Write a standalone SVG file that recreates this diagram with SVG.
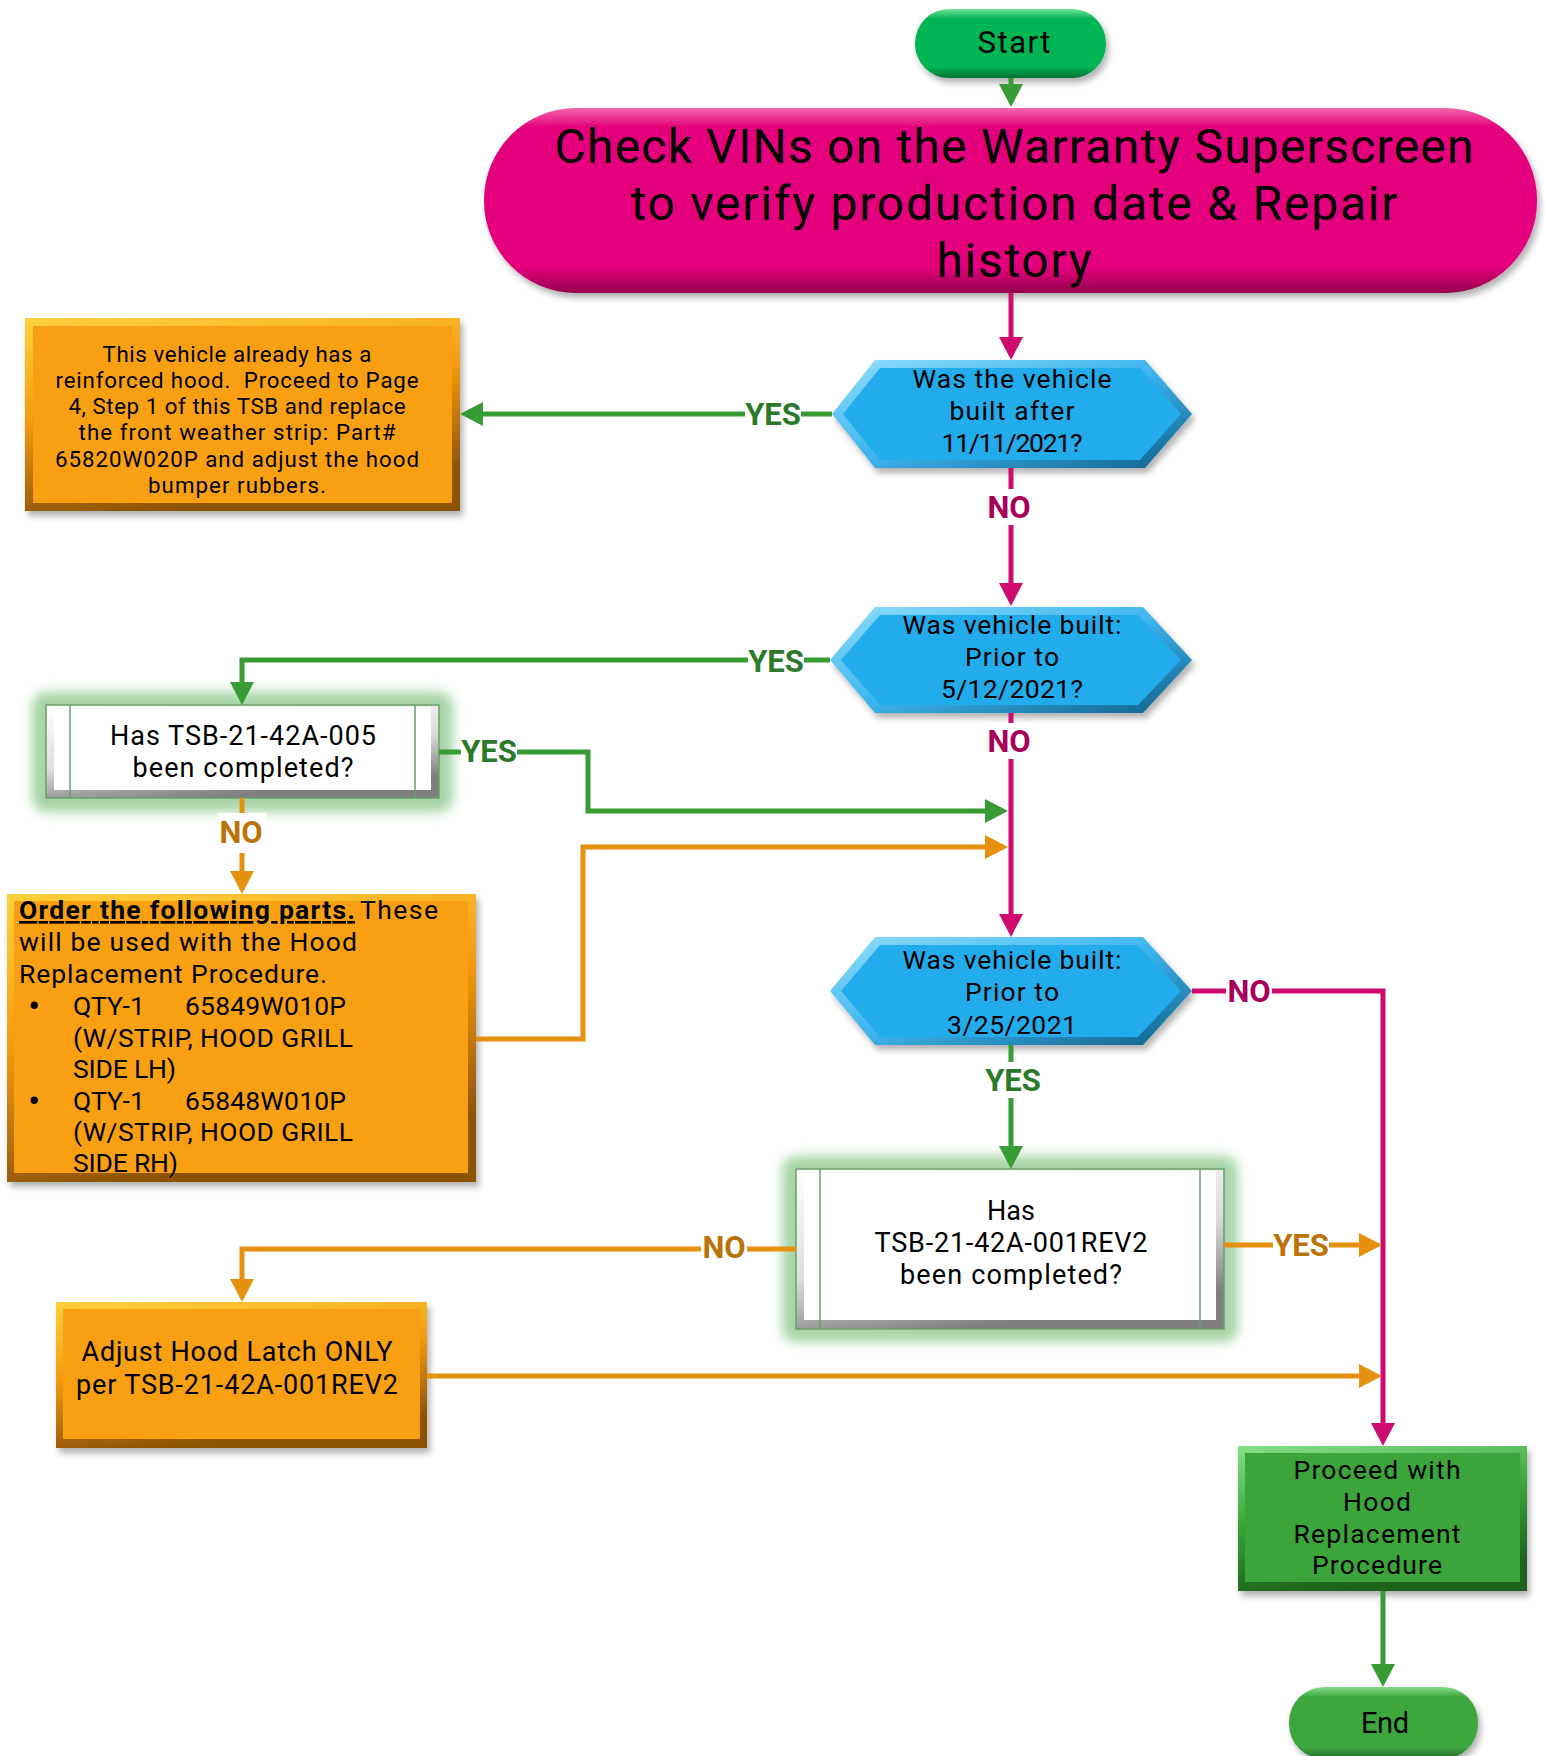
<svg xmlns="http://www.w3.org/2000/svg" width="1545" height="1756" viewBox="0 0 1545 1756">
<defs>
<style>
.t{font-family:Roboto,"Noto Sans","Liberation Sans",sans-serif;fill:#000}
.c{text-anchor:middle}
.lbl{font-family:Roboto,"Noto Sans","Liberation Sans",sans-serif;font-weight:700;font-size:31px;text-anchor:middle}
.cn{fill:none;stroke-width:5}
.g{stroke:#389B34}.m{stroke:#CE0A6F}.o{stroke:#E6900F}
.lg{fill:#2A7A2A}.lm{fill:#A8005A}.lo{fill:#BA7308}
.bg{fill:#fff}
.hexin{fill:#22ACEC}
.orin{fill:#F9A012}
.grin{fill:#3BA53B}
.whin{fill:#fff}
.glow{fill:#A6D4A6}
.edge{stroke:#6A9F6A;stroke-width:1.5;fill:none}
</style>
<marker id="aG" markerUnits="userSpaceOnUse" markerWidth="24" markerHeight="24" refX="11" refY="12" orient="auto"><path d="M0,0L23,12L0,24z" fill="#389B34"/></marker>
<marker id="aM" markerUnits="userSpaceOnUse" markerWidth="24" markerHeight="24" refX="11" refY="12" orient="auto"><path d="M0,0L23,12L0,24z" fill="#CE0A6F"/></marker>
<marker id="aO" markerUnits="userSpaceOnUse" markerWidth="24" markerHeight="24" refX="11" refY="12" orient="auto"><path d="M0,0L23,12L0,24z" fill="#E6900F"/></marker>
<linearGradient id="pinkG" x1="0" y1="0" x2="0" y2="1"><stop offset="0" stop-color="#F565AE"/><stop offset="0.1" stop-color="#E4067B"/><stop offset="0.86" stop-color="#E4067B"/><stop offset="1" stop-color="#94004C"/></linearGradient>
<linearGradient id="startG" x1="0" y1="0" x2="0" y2="1"><stop offset="0" stop-color="#6FE29A"/><stop offset="0.14" stop-color="#05B552"/><stop offset="0.84" stop-color="#05B552"/><stop offset="1" stop-color="#037038"/></linearGradient>
<linearGradient id="endG" x1="0" y1="0" x2="0" y2="1"><stop offset="0" stop-color="#86DE86"/><stop offset="0.14" stop-color="#3EA63E"/><stop offset="0.84" stop-color="#3EA63E"/><stop offset="1" stop-color="#226A22"/></linearGradient>
<linearGradient id="hexG" x1="0" y1="0" x2="1" y2="1"><stop offset="0" stop-color="#8FDDFA"/><stop offset="0.5" stop-color="#3DB5EE"/><stop offset="1" stop-color="#0E5F8A"/></linearGradient>
<linearGradient id="orG" x1="0" y1="0" x2="0.3" y2="1"><stop offset="0" stop-color="#FFD23C"/><stop offset="0.5" stop-color="#F29A10"/><stop offset="1" stop-color="#8C5205"/></linearGradient>
<linearGradient id="grG" x1="0" y1="0" x2="0.3" y2="1"><stop offset="0" stop-color="#86E086"/><stop offset="0.5" stop-color="#3BA53B"/><stop offset="1" stop-color="#1B621B"/></linearGradient>
<linearGradient id="whG" x1="0" y1="0" x2="0.4" y2="1"><stop offset="0" stop-color="#FFFFFF"/><stop offset="0.6" stop-color="#DDDDDD"/><stop offset="1" stop-color="#7E7E7E"/></linearGradient>
<filter id="sh" x="-10%" y="-10%" width="125%" height="135%"><feDropShadow dx="3" dy="5" stdDeviation="3" flood-color="#000" flood-opacity="0.3"/></filter>
<filter id="gl" x="-20%" y="-40%" width="140%" height="180%"><feGaussianBlur stdDeviation="6"/></filter>
</defs>
<rect width="1545" height="1756" fill="#fff"/>

<g id="start">
<rect x="915" y="9" width="191" height="69" rx="34" fill="url(#startG)" filter="url(#sh)"/>
<text class="t c" x="1014" y="53" font-size="31" textLength="73" lengthAdjust="spacing">Start</text>
</g>

<g id="check-vins">
<rect x="484" y="108" width="1053" height="185" rx="92" fill="url(#pinkG)" filter="url(#sh)"/>
<text class="t c" x="1014" y="163" font-size="48" textLength="919" lengthAdjust="spacing">Check VINs on the Warranty Superscreen</text>
<text class="t c" x="1014" y="220" font-size="48" textLength="767" lengthAdjust="spacing">to verify production date &amp; Repair</text>
<text class="t c" x="1014" y="277" font-size="48" textLength="155" lengthAdjust="spacing">history</text>
</g>

<g id="decision-after-11-11-2021">
<polygon points="832,414 875,360 1145,360 1192,414 1145,468 875,468" fill="url(#hexG)" filter="url(#sh)"/>
<polygon class="hexin" points="843,414 880,368 1140,368 1181,414 1140,460 880,460"/>
<text class="t c" x="1012" y="388" font-size="26.5" textLength="199" lengthAdjust="spacing">Was the vehicle</text>
<text class="t c" x="1012" y="420" font-size="26.5" textLength="125" lengthAdjust="spacing">built after</text>
<text class="t c" x="1012" y="452" font-size="26.5" textLength="141" lengthAdjust="spacing">11/11/2021?</text>
</g>

<g id="box-reinforced">
<rect x="25" y="318" width="435" height="193" fill="url(#orG)" filter="url(#sh)"/>
<rect class="orin" x="33" y="326" width="419" height="177"/>
<text class="t c" x="237" y="362" font-size="22.3" textLength="269" lengthAdjust="spacing">This vehicle already has a</text>
<text class="t c" x="237" y="388" font-size="22.3" textLength="363" lengthAdjust="spacing" style="white-space:pre">reinforced hood.  Proceed to Page</text>
<text class="t c" x="237" y="414" font-size="22.3" textLength="337" lengthAdjust="spacing">4, Step 1 of this TSB and replace</text>
<text class="t c" x="237" y="440" font-size="22.3" textLength="317" lengthAdjust="spacing">the front weather strip: Part#</text>
<text class="t c" x="237" y="467" font-size="22.3" textLength="364" lengthAdjust="spacing">65820W020P and adjust the hood</text>
<text class="t c" x="237" y="493" font-size="22.3" textLength="178" lengthAdjust="spacing">bumper rubbers.</text>
</g>

<g id="decision-prior-5-12-2021">
<polygon points="830,660 875,607 1143,607 1192,660 1143,713 875,713" fill="url(#hexG)" filter="url(#sh)"/>
<polygon class="hexin" points="841,660 880,615 1138,615 1181,660 1138,705 880,705"/>
<text class="t c" x="1012" y="634" font-size="26.5" textLength="219" lengthAdjust="spacing">Was vehicle built:</text>
<text class="t c" x="1012" y="666" font-size="26.5" textLength="94" lengthAdjust="spacing">Prior to</text>
<text class="t c" x="1012" y="698" font-size="26.5" textLength="142" lengthAdjust="spacing">5/12/2021?</text>
</g>

<g id="box-tsb-005">
<rect class="glow" x="32" y="692" width="421" height="120" rx="14" filter="url(#gl)"/>
<rect x="46" y="705" width="393" height="93" fill="url(#whG)"/>
<rect class="whin" x="54" y="707" width="377" height="83"/>
<rect class="edge" x="46" y="705" width="393" height="93"/>
<line class="edge" x1="70" y1="705" x2="70" y2="798"/>
<line class="edge" x1="415" y1="705" x2="415" y2="798"/>
<text class="t c" x="243" y="745" font-size="27" textLength="266" lengthAdjust="spacing">Has TSB-21-42A-005</text>
<text class="t c" x="243" y="777" font-size="27" textLength="221" lengthAdjust="spacing">been completed?</text>
</g>

<g id="box-order-parts">
<rect x="7" y="894" width="469" height="288" fill="url(#orG)" filter="url(#sh)"/>
<rect class="orin" x="14" y="901" width="454" height="272"/>
<text class="t" x="19" y="919" font-size="26.5" font-weight="700" text-decoration="underline" textLength="336" lengthAdjust="spacing">Order the following parts.</text>
<text class="t" x="360" y="919" font-size="26.5" textLength="78" lengthAdjust="spacing">These</text>
<text class="t" x="19" y="951" font-size="26.5" textLength="338" lengthAdjust="spacing">will be used with the Hood</text>
<text class="t" x="19" y="983" font-size="26.5" textLength="308" lengthAdjust="spacing">Replacement Procedure.</text>
<text class="t c" x="34" y="1017" font-size="31" font-weight="700">•</text>
<text class="t" x="73" y="1015" font-size="26.5" textLength="72" lengthAdjust="spacing">QTY-1</text>
<text class="t" x="185" y="1015" font-size="26.5" textLength="161" lengthAdjust="spacing">65849W010P</text>
<text class="t" x="73" y="1047" font-size="26.5" textLength="280" lengthAdjust="spacing">(W/STRIP, HOOD GRILL</text>
<text class="t" x="73" y="1078" font-size="26.5" textLength="103" lengthAdjust="spacing">SIDE LH)</text>
<text class="t c" x="34" y="1112" font-size="31" font-weight="700">•</text>
<text class="t" x="73" y="1110" font-size="26.5" textLength="72" lengthAdjust="spacing">QTY-1</text>
<text class="t" x="185" y="1110" font-size="26.5" textLength="161" lengthAdjust="spacing">65848W010P</text>
<text class="t" x="73" y="1141" font-size="26.5" textLength="280" lengthAdjust="spacing">(W/STRIP, HOOD GRILL</text>
<text class="t" x="73" y="1172" font-size="26.5" textLength="105" lengthAdjust="spacing">SIDE RH)</text>
</g>

<g id="decision-prior-3-25-2021">
<polygon points="830,991 875,937 1143,937 1192,991 1143,1045 875,1045" fill="url(#hexG)" filter="url(#sh)"/>
<polygon class="hexin" points="841,991 880,945 1138,945 1181,991 1138,1037 880,1037"/>
<text class="t c" x="1012" y="969" font-size="26.5" textLength="219" lengthAdjust="spacing">Was vehicle built:</text>
<text class="t c" x="1012" y="1001" font-size="26.5" textLength="94" lengthAdjust="spacing">Prior to</text>
<text class="t c" x="1012" y="1034" font-size="26.5" textLength="130" lengthAdjust="spacing">3/25/2021</text>
</g>

<g id="box-tsb-001rev2">
<rect class="glow" x="782" y="1156" width="456" height="186" rx="14" filter="url(#gl)"/>
<rect x="796" y="1169" width="428" height="160" fill="url(#whG)"/>
<rect class="whin" x="804" y="1171" width="412" height="149"/>
<rect class="edge" x="796" y="1169" width="428" height="160"/>
<line class="edge" x1="820" y1="1169" x2="820" y2="1329"/>
<line class="edge" x1="1200" y1="1169" x2="1200" y2="1329"/>
<text class="t c" x="1011" y="1220" font-size="27" textLength="48" lengthAdjust="spacing">Has</text>
<text class="t c" x="1011" y="1252" font-size="27" textLength="273" lengthAdjust="spacing">TSB-21-42A-001REV2</text>
<text class="t c" x="1011" y="1284" font-size="27" textLength="222" lengthAdjust="spacing">been completed?</text>
</g>

<g id="box-adjust-latch">
<rect x="56" y="1302" width="371" height="146" fill="url(#orG)" filter="url(#sh)"/>
<rect class="orin" x="63" y="1309" width="357" height="130"/>
<text class="t c" x="237" y="1361" font-size="27" textLength="311" lengthAdjust="spacing">Adjust Hood Latch ONLY</text>
<text class="t c" x="237" y="1394" font-size="27" textLength="322" lengthAdjust="spacing">per TSB-21-42A-001REV2</text>
</g>

<g id="box-proceed">
<rect x="1238" y="1446" width="289" height="145" fill="url(#grG)" filter="url(#sh)"/>
<rect class="grin" x="1245" y="1453" width="275" height="129"/>
<text class="t c" x="1377" y="1479" font-size="26.5" textLength="167" lengthAdjust="spacing">Proceed with</text>
<text class="t c" x="1377" y="1511" font-size="26.5" textLength="68" lengthAdjust="spacing">Hood</text>
<text class="t c" x="1377" y="1543" font-size="26.5" textLength="167" lengthAdjust="spacing">Replacement</text>
<text class="t c" x="1377" y="1574" font-size="26.5" textLength="130" lengthAdjust="spacing">Procedure</text>
</g>

<g id="end">
<rect x="1289" y="1687" width="189" height="72" rx="35" fill="url(#endG)" filter="url(#sh)"/>
<text class="t c" x="1385" y="1733" font-size="29" textLength="48" lengthAdjust="spacing">End</text>
</g>

<g id="connectors">
<path class="cn g" d="M1011,78V95" marker-end="url(#aG)"/>
<path class="cn m" d="M1011,293V348" marker-end="url(#aM)"/>
<path class="cn g" d="M832,414H472" marker-end="url(#aG)"/>
<path class="cn m" d="M1011,468V594" marker-end="url(#aM)"/>
<path class="cn g" d="M830,660H242V693" marker-end="url(#aG)"/>
<path class="cn m" d="M1011,713V925" marker-end="url(#aM)"/>
<path class="cn g" d="M439,752H588V811H996" marker-end="url(#aG)"/>
<path class="cn o" d="M242,798V882" marker-end="url(#aO)"/>
<path class="cn o" d="M476,1039H583V847H996" marker-end="url(#aO)"/>
<path class="cn m" d="M1192,991H1383V1434" marker-end="url(#aM)"/>
<path class="cn g" d="M1011,1045V1157" marker-end="url(#aG)"/>
<path class="cn o" d="M796,1249H242V1290" marker-end="url(#aO)"/>
<path class="cn o" d="M1224,1245H1370" marker-end="url(#aO)"/>
<path class="cn o" d="M427,1376H1370" marker-end="url(#aO)"/>
<path class="cn g" d="M1383,1591V1675" marker-end="url(#aG)"/>

<rect class="bg" x="745" y="396" width="56" height="36"/><text class="lbl lg" x="773" y="425">YES</text>
<rect class="bg" x="986" y="489" width="46" height="36"/><text class="lbl lm" x="1009" y="518">NO</text>
<rect class="bg" x="748" y="643" width="56" height="36"/><text class="lbl lg" x="776" y="672">YES</text>
<rect class="bg" x="986" y="723" width="46" height="36"/><text class="lbl lm" x="1009" y="752">NO</text>
<rect class="bg" x="461" y="732" width="56" height="38"/><text class="lbl lg" x="489" y="762">YES</text>
<rect class="bg" x="218" y="813" width="48" height="40"/><text class="lbl lo" x="241" y="843">NO</text>
<rect class="bg" x="1226" y="973" width="46" height="36"/><text class="lbl lm" x="1249" y="1002">NO</text>
<rect class="bg" x="985" y="1062" width="56" height="36"/><text class="lbl lg" x="1013" y="1091">YES</text>
<rect class="bg" x="701" y="1229" width="46" height="36"/><text class="lbl lo" x="724" y="1258">NO</text>
<rect class="bg" x="1273" y="1227" width="56" height="36"/><text class="lbl lo" x="1301" y="1256">YES</text>
</g>
</svg>
